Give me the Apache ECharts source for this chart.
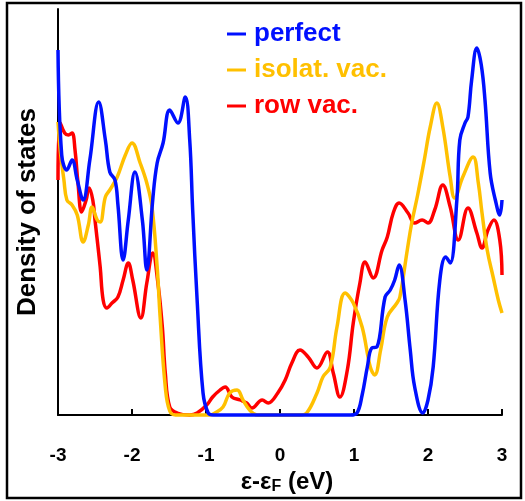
<!DOCTYPE html>
<html>
<head>
<meta charset="UTF-8">
<title>DOS</title>
<script src="https://cdn.jsdelivr.net/npm/echarts@6/dist/echarts.min.js"></script>
<style>
  html, body { margin: 0; padding: 0; background: #fff; }
  #chart { width: 525px; height: 501px; }
</style>
</head>
<body>
<div id="chart"></div>
<script>
// energy (eV) vs density of states (arb. units)
const perfect = [
  [-3.0, 3.65], [-2.95, 2.6], [-2.88, 2.45], [-2.81, 2.55], [-2.74, 2.35], [-2.66, 2.15],
  [-2.57, 2.55], [-2.45, 3.13], [-2.36, 2.75], [-2.30, 2.43], [-2.23, 2.35], [-2.19, 2.1],
  [-2.12, 1.55], [-2.05, 1.95], [-1.96, 2.43], [-1.86, 1.95], [-1.80, 1.45], [-1.72, 2.15],
  [-1.66, 2.52], [-1.58, 2.72], [-1.49, 3.05], [-1.38, 2.92], [-1.28, 3.18], [-1.22, 2.75],
  [-1.18, 2.05], [-1.12, 1.15], [-1.04, 0.22], [-0.97, 0.02], [-0.9, 0], [-0.5, 0], [0, 0],
  [0.5, 0], [0.95, 0], [1.04, 0.02], [1.11, 0.2], [1.18, 0.48], [1.24, 0.67], [1.31, 0.68],
  [1.42, 1.18], [1.49, 1.25], [1.55, 1.35], [1.61, 1.5], [1.69, 1.15], [1.76, 0.65],
  [1.82, 0.28], [1.93, 0.02], [2.0, 0.15], [2.07, 0.48], [2.16, 1.35], [2.24, 1.58],
  [2.30, 1.52], [2.39, 2.15], [2.43, 2.75], [2.50, 2.92], [2.54, 2.98], [2.59, 3.35],
  [2.66, 3.67], [2.72, 3.5], [2.77, 3.15], [2.84, 2.42], [2.91, 2.15], [2.97, 2.0], [3.0, 2.15]
];
const isolatVac = [
  [-3.0, 2.93], [-2.97, 2.65], [-2.92, 2.35], [-2.88, 2.15], [-2.81, 2.1], [-2.74, 2.0],
  [-2.66, 1.73], [-2.59, 1.9], [-2.54, 2.08], [-2.47, 1.95], [-2.43, 1.93], [-2.36, 2.18],
  [-2.30, 2.25], [-2.20, 2.38], [-2.09, 2.6], [-2.0, 2.72], [-1.89, 2.52], [-1.80, 2.32],
  [-1.73, 2.08], [-1.66, 1.48], [-1.62, 0.98], [-1.55, 0.28], [-1.49, 0.04], [-1.41, 0],
  [-1.2, 0], [-0.95, 0], [-0.88, 0.02], [-0.77, 0.08], [-0.68, 0.22], [-0.58, 0.25],
  [-0.50, 0.15], [-0.41, 0.05], [-0.31, 0], [0, 0], [0.27, 0], [0.36, 0.02], [0.50, 0.22],
  [0.58, 0.38], [0.68, 0.48], [0.77, 0.88], [0.88, 1.22], [0.99, 1.12], [1.11, 0.88],
  [1.22, 0.48], [1.28, 0.4], [1.36, 0.65], [1.45, 0.98], [1.58, 1.12], [1.62, 1.18],
  [1.72, 1.65], [1.78, 1.92], [1.86, 2.2], [1.95, 2.55], [2.03, 2.88], [2.12, 3.12],
  [2.20, 2.88], [2.30, 2.38], [2.36, 2.17], [2.47, 2.38], [2.61, 2.58], [2.68, 2.32],
  [2.73, 2.02], [2.80, 1.65], [2.88, 1.38], [2.95, 1.15], [3.0, 1.02]
];
const rowVac = [
  [-3.0, 2.35], [-2.97, 2.92], [-2.91, 2.82], [-2.86, 2.8], [-2.81, 2.82], [-2.77, 2.65],
  [-2.73, 2.32], [-2.68, 2.03], [-2.62, 2.15], [-2.58, 2.27], [-2.53, 2.15], [-2.50, 1.95],
  [-2.43, 1.48], [-2.39, 1.15], [-2.34, 1.07], [-2.27, 1.12], [-2.19, 1.18], [-2.12, 1.35],
  [-2.05, 1.52], [-1.99, 1.35], [-1.88, 0.97], [-1.80, 1.32], [-1.72, 1.62], [-1.65, 1.32],
  [-1.59, 0.88], [-1.55, 0.42], [-1.49, 0.08], [-1.39, 0.02], [-1.22, 0], [-1.12, 0.02],
  [-0.99, 0.1], [-0.91, 0.18], [-0.81, 0.25], [-0.74, 0.28], [-0.65, 0.18], [-0.54, 0.15],
  [-0.45, 0.12], [-0.38, 0.07], [-0.24, 0.15], [-0.16, 0.12], [-0.03, 0.22], [0.07, 0.35],
  [0.16, 0.52], [0.27, 0.65], [0.38, 0.58], [0.50, 0.47], [0.64, 0.63], [0.72, 0.42],
  [0.81, 0.18], [0.91, 0.45], [0.99, 0.92], [1.08, 1.32], [1.15, 1.53], [1.26, 1.37],
  [1.38, 1.65], [1.45, 1.78], [1.53, 2.02], [1.61, 2.12], [1.73, 2.02], [1.82, 1.92],
  [1.92, 1.95], [2.0, 1.92], [2.09, 2.05], [2.20, 2.3], [2.30, 2.08], [2.41, 1.75],
  [2.54, 2.07], [2.66, 1.82], [2.73, 1.67], [2.81, 1.85], [2.89, 1.95], [2.97, 1.75], [3.0, 1.4]
];
const xTicks = [-3, 3, 1]; // min, max, step

const names = ['perfect', 'isolat. vac.', 'row vac.'];
const colors = ['#0010ff', '#ffc000', '#ff0000'];
const seriesData = [perfect, isolatVac, rowVac];

const chart = echarts.init(document.getElementById('chart'));

const font = 'Arial, "Liberation Sans", sans-serif';

chart.setOption({
  animation: false,
  grid: { left: 58, right: 23, top: 9, bottom: 86 },
  legend: {
    orient: 'vertical',
    left: 227,
    top: 21,
    padding: 0,
    itemGap: 10,
    icon: 'rect',
    itemWidth: 19,
    itemHeight: 3,
    textStyle: { fontSize: 26, fontWeight: 'bold', fontFamily: font, padding: [0, 0, 0, 3] },
    data: names.map((n, i) => ({ name: n, textStyle: { color: colors[i] } }))
  },
  xAxis: {
    type: 'value',
    min: xTicks[0],
    max: xTicks[1],
    interval: xTicks[2],
    axisLine: { lineStyle: { color: '#000', width: 2 } },
    axisTick: { inside: true, length: 6, lineStyle: { color: '#000', width: 2 } },
    axisLabel: { color: '#000', fontSize: 19, fontWeight: 'bold', fontFamily: font, margin: 31 },
    splitLine: { show: false },
    name: '{a|ε-ε}{s|F}{a| (eV)}',
    nameLocation: 'middle',
    nameGap: 46,
    nameTextStyle: {
      padding: [0, 0, 0, 14],
      rich: {
        a: { fontSize: 24, fontWeight: 'bold', fontFamily: font, color: '#000' },
        s: { fontSize: 16, fontWeight: 'bold', fontFamily: font, color: '#000', verticalAlign: 'bottom', padding: [10, 0, 0, 0] }
      }
    }
  },
  yAxis: {
    type: 'value',
    min: 0,
    max: 4.06,
    axisLine: { show: true, onZero: false, lineStyle: { color: '#000', width: 2 } },
    axisTick: { show: false },
    axisLabel: { show: false },
    splitLine: { show: false },
    name: 'Density of states',
    nameLocation: 'middle',
    nameGap: 17,
    nameTextStyle: { fontSize: 26, fontWeight: 'bold', fontFamily: font, color: '#000' }
  },
  graphic: [{
    type: 'rect',
    shape: { x: 7, y: 3, width: 514, height: 495 },
    style: { fill: 'none', stroke: '#000', lineWidth: 2.5 }
  }],
  series: seriesData.map((d, i) => ({
    name: names[i],
    type: 'line',
    data: d,
    smooth: 0.4,
    showSymbol: false,
    symbol: 'none',
    clip: false,
    lineStyle: { color: colors[i], width: 3.5 },
    itemStyle: { color: colors[i] },
    z: 3 - i
  }))
});
</script>
</body>
</html>
